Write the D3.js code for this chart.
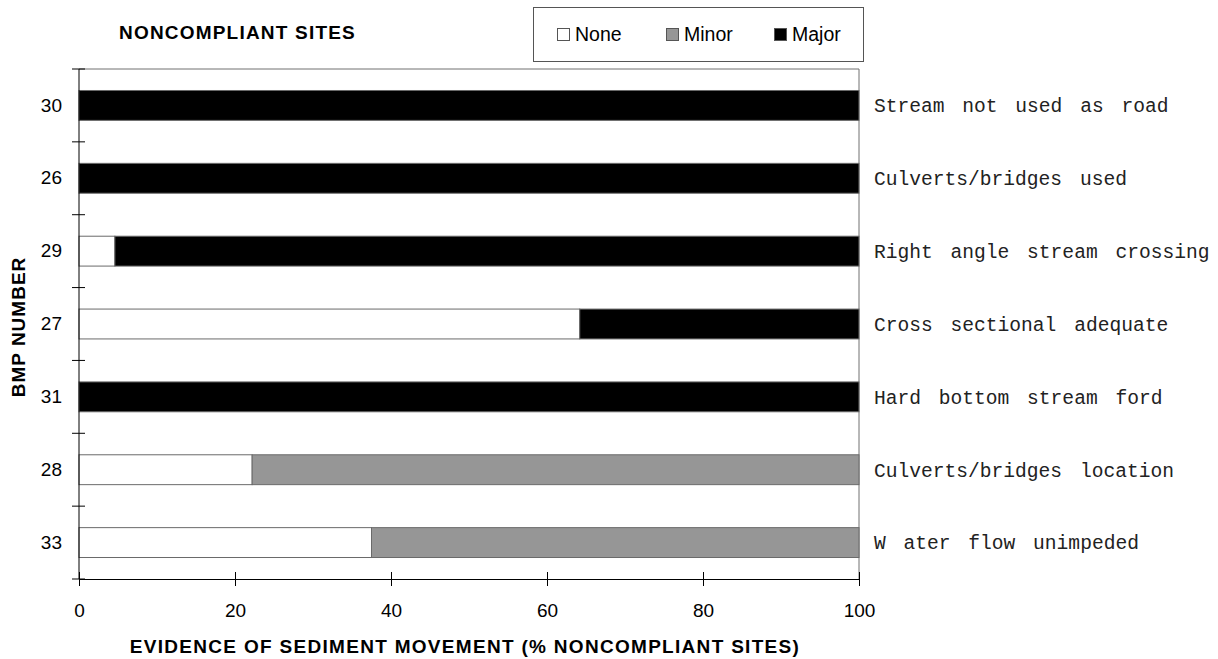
<!DOCTYPE html>
<html>
<head>
<meta charset="utf-8">
<script src="https://cdn.jsdelivr.net/npm/d3@7"></script>
<style>
  body { margin: 0; background: #fff; }
  text { font-family: "Liberation Sans", Arial, sans-serif; }
</style>
</head>
<body>
<div id="place"></div>
<script>
// BMP numbers, top to bottom
const bmps = ["30", "26", "29", "27", "31", "28", "33"];
const descriptions = [
  "Stream not used as road",
  "Culverts/bridges used",
  "Right angle stream crossing",
  "Cross sectional adequate",
  "Hard bottom stream ford",
  "Culverts/bridges location",
  "W ater flow unimpeded"
];
// % of noncompliant sites by evidence class
const noneVals  = [0, 0, 4.6, 64.2, 0, 22.2, 37.5];
const minorVals = [0, 0, 0, 0, 0, 77.8, 62.5];
const majorVals = [100, 100, 95.4, 35.8, 100, 0, 0];
const classes = ["None", "Minor", "Major"];
const xTicks = [0, 20, 40, 60, 80, 100];

const W = 1218, H = 659;
const margin = { top: 69, right: 359, bottom: 80, left: 79 };
const colors = { None: "#ffffff", Minor: "#969696", Major: "#000000" };

const svg = d3.select("#place").append("svg")
  .attr("width", W).attr("height", H);

const x = d3.scaleLinear().domain([0, 100]).range([margin.left, W - margin.right]);
const y = d3.scaleBand().domain(bmps)
  .range([margin.top, H - margin.bottom])
  .paddingInner(0.59).paddingOuter(0.295);

// stacked rows
const rows = bmps.map((b, i) => ({ bmp: b, None: noneVals[i], Minor: minorVals[i], Major: majorVals[i] }));
const stack = d3.stack().keys(classes)(rows);

// plot frame (top + right)
svg.append("path")
  .attr("d", `M${x(0)},${y.range()[0]}H${x(100)}V${y.range()[1]}`)
  .attr("fill", "none").attr("stroke", "#707070").attr("stroke-width", 1);

svg.append("g").selectAll("g")
  .data(stack).enter().append("g")
  .attr("fill", d => colors[d.key])
  .selectAll("rect")
  .data(d => d.filter(s => s[1] - s[0] > 0)).enter()
  .append("rect")
  .attr("x", d => x(d[0]))
  .attr("y", d => y(d.data.bmp))
  .attr("width", d => x(d[1]) - x(d[0]))
  .attr("height", y.bandwidth())
  .attr("stroke", "#6a6a6a").attr("stroke-width", 1);

// axes
const xAxis = d3.axisBottom(x).tickValues(xTicks).tickSizeInner(7).tickSizeOuter(0).tickPadding(18);
const gx = svg.append("g").attr("transform", `translate(0,${y.range()[1]})`).call(xAxis);
gx.selectAll(".tick line").attr("y1", -7);
gx.select(".domain").attr("stroke", "#000");
gx.selectAll("text").attr("font-size", 19).attr("fill", "#000")
  .attr("font-family", "'Liberation Sans', Arial, sans-serif");

const gy = svg.append("g").attr("transform", `translate(${x(0)},0)`)
  .call(d3.axisLeft(y).tickSize(0).tickPadding(17));
gy.select(".domain").attr("d", `M0,${y.range()[0]}V${y.range()[1]}`).attr("stroke", "#000");
gy.selectAll("text").attr("font-size", 19).attr("fill", "#000")
  .attr("font-family", "'Liberation Sans', Arial, sans-serif");

// y ticks on the band boundaries
const gap = (y.step() - y.bandwidth()) / 2;
const yBounds = bmps.map(b => y(b) - gap).concat([y.range()[1]]);
svg.append("g").selectAll("line").data(yBounds).enter().append("line")
  .attr("x1", x(0) - 7).attr("x2", x(0) + 6)
  .attr("y1", d => d).attr("y2", d => d)
  .attr("stroke", "#000");

// right-hand descriptions
svg.append("g").selectAll("text").data(descriptions).enter().append("text")
  .attr("x", x(100) + 15)
  .attr("y", (d, i) => y(bmps[i]) + y.bandwidth() / 2)
  .attr("dy", "0.35em")
  .style("font-family", "'Liberation Mono', 'Courier New', monospace")
  .style("word-spacing", "6px")
  .attr("font-size", 19.6)
  .attr("fill", "#222")
  .text(d => d);

// titles
svg.append("text")
  .attr("x", 119).attr("y", 39)
  .attr("font-size", 19).attr("font-weight", "bold").attr("letter-spacing", 1.2)
  .text("NONCOMPLIANT SITES");

svg.append("text")
  .attr("x", (x(0) + x(100)) / 2 - 4).attr("y", 653)
  .attr("text-anchor", "middle")
  .attr("font-size", 19).attr("font-weight", "bold").attr("letter-spacing", 1.3)
  .text("EVIDENCE OF SEDIMENT MOVEMENT (% NONCOMPLIANT SITES)");

svg.append("text")
  .attr("transform", `translate(25,${(y.range()[0] + y.range()[1]) / 2 + 3}) rotate(-90)`)
  .attr("text-anchor", "middle")
  .attr("font-size", 19).attr("font-weight", "bold").attr("letter-spacing", 1)
  .text("BMP NUMBER");

// legend
const lg = svg.append("g");
lg.append("rect").attr("x", 533.5).attr("y", 7.5).attr("width", 330).attr("height", 54)
  .attr("fill", "#fff").attr("stroke", "#555");
const legendX = [557, 666, 774];
classes.forEach((c, i) => {
  lg.append("rect").attr("x", legendX[i] + 0.5).attr("y", 28.5).attr("width", 12).attr("height", 12)
    .attr("fill", colors[c]).attr("stroke", "#555");
  lg.append("text").attr("x", legendX[i] + 18).attr("y", 41)
    .attr("font-size", 19.5).text(c);
});
</script>
</body>
</html>
